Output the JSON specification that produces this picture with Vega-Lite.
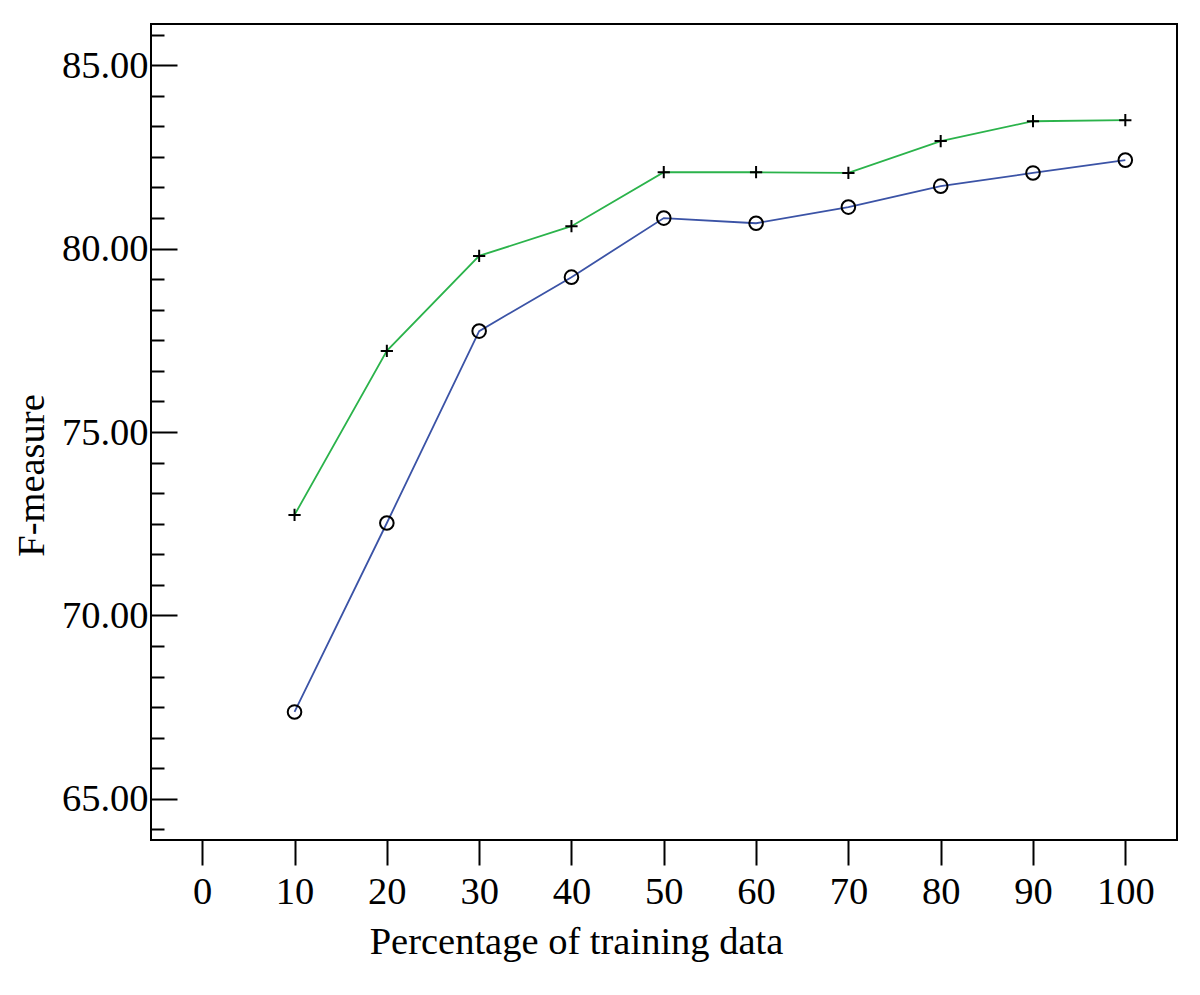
{
  "$schema": "https://vega.github.io/schema/vega-lite/v6.json",
  "width": 1026,
  "height": 816,
  "autosize": {"type": "none"},
  "padding": {"left": 151, "top": 24, "right": 23, "bottom": 155},
  "background": "white",
  "config": {
    "view": {"stroke": "black", "strokeWidth": 2},
    "font": "Liberation Serif",
    "axis": {"grid": false, "domain": false, "tickColor": "black", "tickWidth": 2, "labelColor": "black", "titleColor": "black", "labelFont": "Liberation Serif", "titleFont": "Liberation Serif", "labelFontSize": 38.5, "titleFontSize": 38.5, "titleFontWeight": "normal"}
  },
  "data": {
    "values": [
      {"pct": 10, "f": 72.74, "series": "Series 1"},
      {"pct": 20, "f": 77.21, "series": "Series 1"},
      {"pct": 30, "f": 79.80, "series": "Series 1"},
      {"pct": 40, "f": 80.61, "series": "Series 1"},
      {"pct": 50, "f": 82.08, "series": "Series 1"},
      {"pct": 60, "f": 82.08, "series": "Series 1"},
      {"pct": 70, "f": 82.06, "series": "Series 1"},
      {"pct": 80, "f": 82.93, "series": "Series 1"},
      {"pct": 90, "f": 83.47, "series": "Series 1"},
      {"pct": 100, "f": 83.50, "series": "Series 1"},
      {"pct": 10, "f": 67.37, "series": "Series 2"},
      {"pct": 20, "f": 72.52, "series": "Series 2"},
      {"pct": 30, "f": 77.75, "series": "Series 2"},
      {"pct": 40, "f": 79.22, "series": "Series 2"},
      {"pct": 50, "f": 80.83, "series": "Series 2"},
      {"pct": 60, "f": 80.69, "series": "Series 2"},
      {"pct": 70, "f": 81.13, "series": "Series 2"},
      {"pct": 80, "f": 81.70, "series": "Series 2"},
      {"pct": 90, "f": 82.06, "series": "Series 2"},
      {"pct": 100, "f": 82.41, "series": "Series 2"}
    ]
  },
  "encoding": {
    "x": {
      "field": "pct",
      "type": "quantitative",
      "scale": {"domain": [-5.55, 105.6], "nice": false, "zero": false},
      "axis": {
        "values": [0, 10, 20, 30, 40, 50, 60, 70, 80, 90, 100],
        "tickSize": 25,
        "labelPadding": 8,
        "labelFlush": false,
        "labelOverlap": false,
        "title": "Percentage of training data",
        "titleX": 425,
        "titleY": 113,
        "titleAlign": "center",
        "titleBaseline": "alphabetic"
      }
    }
  },
  "layer": [
    {
      "mark": {"type": "line", "strokeWidth": 1.8},
      "encoding": {
        "y": {
          "field": "f",
          "type": "quantitative",
          "scale": {"domain": [63.88, 86.12], "nice": false, "zero": false},
          "axis": {
            "orient": "left",
            "values": [65, 70, 75, 80, 85],
            "format": ".2f",
            "tickSize": -26,
            "labelPadding": 29,
            "labelBaseline": "middle",
            "labelFlush": false,
            "labelOverlap": false,
            "title": "F-measure",
            "titleAngle": -90,
            "titleX": -108,
            "titleY": 451,
            "titleAlign": "center",
            "titleBaseline": "alphabetic"
          }
        },
        "color": {
          "field": "series",
          "type": "nominal",
          "scale": {"domain": ["Series 1", "Series 2"], "range": ["#2bb34b", "#3b53a6"]},
          "legend": null
        }
      }
    },
    {
      "mark": {"type": "point", "filled": false, "stroke": "black", "strokeWidth": 2, "opacity": 1},
      "encoding": {
        "y": {
          "field": "f",
          "type": "quantitative",
          "axis": {
            "orient": "left",
            "values": [64.1667, 65.8333, 66.6667, 67.5, 68.3333, 69.1667, 70.8333, 71.6667, 72.5, 73.3333, 74.1667, 75.8333, 76.6667, 77.5, 78.3333, 79.1667, 80.8333, 81.6667, 82.5, 83.3333, 84.1667, 85.8333],
            "tickSize": -13,
            "labels": false,
            "title": null
          }
        },
        "shape": {
          "field": "series",
          "type": "nominal",
          "scale": {"domain": ["Series 1", "Series 2"], "range": ["M-1,0L1,0M0,-1L0,1", "circle"]},
          "legend": null
        },
        "size": {
          "field": "series",
          "type": "nominal",
          "scale": {"domain": ["Series 1", "Series 2"], "range": [150, 185]},
          "legend": null
        }
      }
    }
  ],
  "resolve": {"axis": {"y": "independent"}}
}
